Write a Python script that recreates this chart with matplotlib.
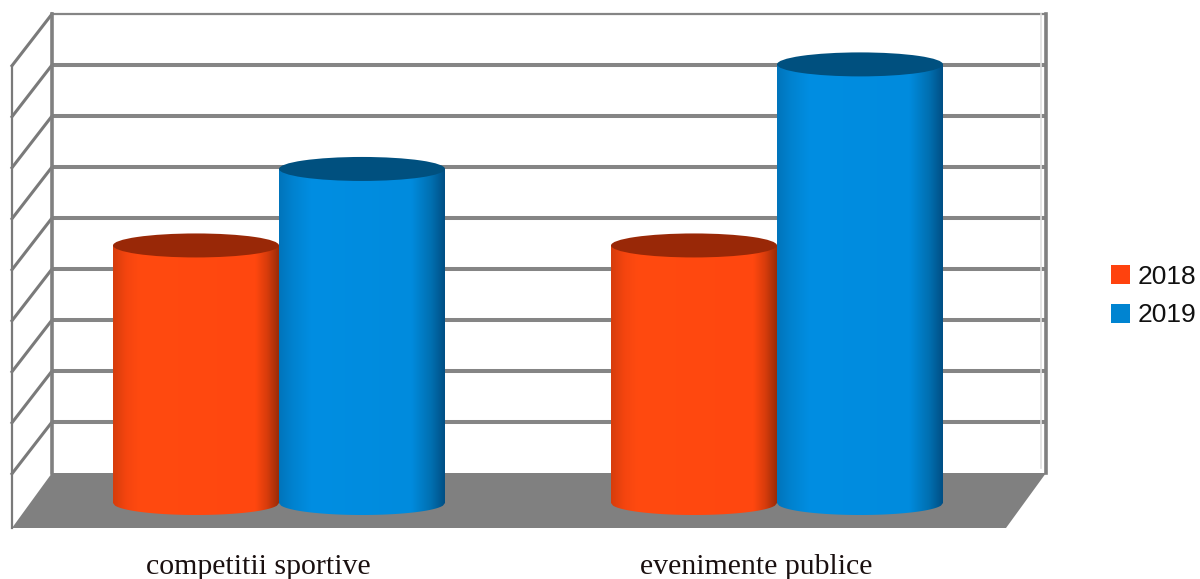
# -*- coding: utf-8 -*-
import numpy as np
import matplotlib
matplotlib.use("Agg")
import matplotlib.pyplot as plt
from matplotlib.patches import Ellipse, Patch, Polygon

# %% Data

categories = ["competitii sportive", "evenimente publice"]
series_names = ["2018", "2019"]
values_2018 = [50.5, 50.5]
values_2019 = [65.5, 86]
grid_values = np.arange(0, 100, 10)

# %% Scales (1 x unit = one category, y in chart units)

PX_X = 498.0
PX_Y = 5.1
W, H = 1200, 579
X0_PX, Y0_PX = 279, 503

fig = plt.figure(figsize=(W / 100, H / 100), dpi=100)
ax = fig.add_axes([0, 0, 1, 1])
ax.set_xlim(-X0_PX / PX_X, (W - X0_PX) / PX_X)
ax.set_ylim((Y0_PX - H) / PX_Y, Y0_PX / PX_Y)
ax.axis("off")

# %% 3D box

wall_l, wall_r = (52 - X0_PX) / PX_X, (1046 - X0_PX) / PX_X
dx = 40 / PX_X
back_y = 30 / PX_Y
dy = 55 / PX_Y
wall_top = grid_values[-1]

grey = "#808080"
ax.add_patch(Polygon([(wall_l, back_y), (wall_r, back_y), (wall_r - dx, back_y - dy),
                      (wall_l - dx, back_y - dy)], fc=grey, ec="none", zorder=1))

for v in grid_values:
    y = v + back_y
    lw = 1.6 if v == wall_top else 2.9
    if v > 0:
        ax.plot([wall_l, wall_r], [y, y], color="#858585", lw=lw, zorder=1, solid_capstyle="butt")
    if v > 0 and v <= wall_top:
        ax.plot([wall_l, wall_l - dx], [y, y - dy * 0.94], color="#7a7a7a", lw=2.2, zorder=1)

ax.plot([wall_l, wall_l], [back_y, wall_top + back_y], color=grey, lw=2.6, zorder=1)
ax.plot([wall_r, wall_r], [back_y, wall_top + back_y], color=grey, lw=2.6, zorder=1)
ax.plot([wall_r - 5 / PX_X] * 2, [back_y + 1, wall_top + back_y], color="#e0e0e0", lw=1.2, zorder=1)
ax.plot([wall_l - dx] * 2, [back_y - dy, wall_top + back_y - dy * 0.94], color="#7a7a7a", lw=1.6, zorder=1)

# %% Cylinders


def cylinder(x_left, width, value, stops, top_color, z):
    ry = 12.0 / PX_Y
    pos = [s[0] for s in stops]
    cols = np.array([matplotlib.colors.to_rgb(s[1]) for s in stops])
    t = np.linspace(0, 1, 256)
    grad = np.stack([np.interp(t, pos, cols[:, k]) for k in range(3)], axis=-1)[None, :, :]

    xs = np.linspace(x_left, x_left + width, 80)
    bottom = -ry * np.sqrt(np.clip(1 - ((xs - x_left - width / 2) / (width / 2)) ** 2, 0, 1))
    outline = list(zip(xs, bottom)) + [(x_left + width, value), (x_left, value)]
    clip = Polygon(outline, transform=ax.transData, fc="none", ec="none")
    ax.add_patch(clip)
    im = ax.imshow(grad, extent=(x_left, x_left + width, -ry, value), aspect="auto",
                   zorder=z, interpolation="bilinear")
    im.set_clip_path(clip)
    ax.add_patch(Ellipse((x_left + width / 2, value), width, 2 * ry, fc=top_color, ec="none", zorder=z + 0.1))


orange_stops = [(0, "#d63d0c"), (0.08, "#f5450f"), (0.16, "#ff4a10"), (0.86, "#ff470f"),
                (0.93, "#d83c0c"), (1, "#9a2c08")]
blue_stops = [(0, "#0074bb"), (0.08, "#0082cf"), (0.2, "#008ee2"), (0.8, "#008bdd"),
              (0.92, "#006fb0"), (1, "#004f85")]
bar_w = 1 / 3

xl, yl = ax.get_xlim(), ax.get_ylim()

for i in range(len(categories)):
    cylinder(i - bar_w, bar_w, values_2018[i], orange_stops, "#992807", 3)
    cylinder(i, bar_w, values_2019[i], blue_stops, "#00507f", 4)
    ax.text(i - 0.042, -12.6, categories[i], ha="center", va="center", color="#1a1010",
            family="Liberation Serif", fontsize=21.5)

ax.set_xlim(xl)
ax.set_ylim(yl)

# %% Legend

handles = [Patch(fc="#ff420e", ec="none", label=series_names[0]),
           Patch(fc="#0084d1", ec="none", label=series_names[1])]
ax.legend(handles=handles, loc="center left", bbox_to_anchor=(1087 / W, 1 - 296 / H), frameon=False,
          prop={"family": "Liberation Sans", "size": 19}, handlelength=0.72, handleheight=0.72,
          handletextpad=0.3, labelspacing=0.56, borderpad=0.4, labelcolor="#111111")

fig.savefig("out.png", dpi=100)
